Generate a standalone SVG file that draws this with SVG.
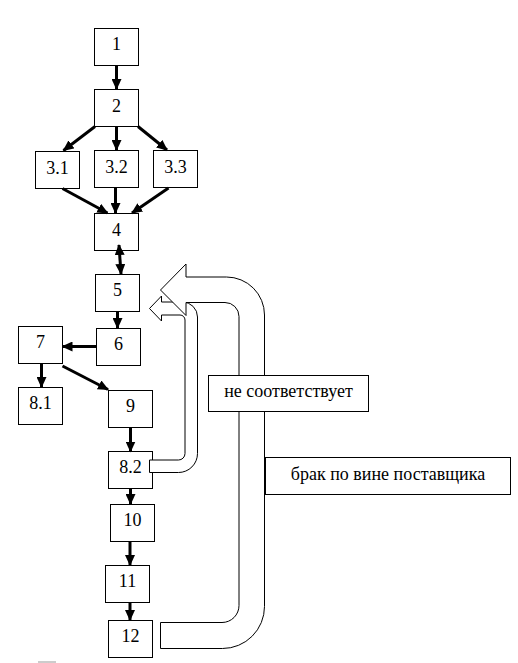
<svg xmlns="http://www.w3.org/2000/svg" width="518" height="663" viewBox="0 0 518 663">
<style>
.box{fill:#fff;stroke:#000;stroke-width:1}
.lbl{font-family:"Liberation Serif","Times New Roman",serif;font-size:18px;fill:#000;text-anchor:middle}
.con{stroke:#000;stroke-width:3;fill:none;marker-end:url(#ah)}
.blk{fill:#fff;stroke:#000;stroke-width:1;stroke-linejoin:miter}
</style>
<defs>
<marker id="ah" markerUnits="userSpaceOnUse" markerWidth="11" markerHeight="10" refX="10" refY="5" orient="auto-start-reverse">
<path d="M0,0 L11,5 L0,10 z" fill="#000"/>
</marker>
</defs>
<rect width="518" height="663" fill="#fff"/>
<g id="n1"><rect class="box" x="94.5" y="28.5" width="44" height="37"/><text class="lbl" x="116.5" y="50">1</text></g>
<g id="n2"><rect class="box" x="94.5" y="89.5" width="44" height="37"/><text class="lbl" x="116.5" y="112">2</text></g>
<g id="n3_1"><rect class="box" x="35.5" y="151.5" width="44" height="37"/><text class="lbl" x="57.5" y="173.5">3.1</text></g>
<g id="n3_2"><rect class="box" x="94.5" y="150.5" width="44" height="37"/><text class="lbl" x="116.5" y="172.5">3.2</text></g>
<g id="n3_3"><rect class="box" x="153.5" y="150.5" width="44" height="37"/><text class="lbl" x="175.5" y="172.5">3.3</text></g>
<g id="n4"><rect class="box" x="94.5" y="213.5" width="44" height="37"/><text class="lbl" x="116.5" y="235.5">4</text></g>
<g id="n5"><rect class="box" x="95.5" y="274.5" width="44" height="37"/><text class="lbl" x="117.5" y="296">5</text></g>
<g id="n6"><rect class="box" x="96.5" y="328.5" width="44" height="37"/><text class="lbl" x="118.5" y="350">6</text></g>
<g id="n7"><rect class="box" x="18.5" y="326.5" width="44" height="37"/><text class="lbl" x="40.5" y="348">7</text></g>
<g id="n8_1"><rect class="box" x="18.5" y="387.5" width="44" height="37"/><text class="lbl" x="40.5" y="409">8.1</text></g>
<g id="n9"><rect class="box" x="108.5" y="390.5" width="44" height="37"/><text class="lbl" x="130.5" y="412">9</text></g>
<g id="n8_2"><rect class="box" x="108.5" y="451.5" width="44" height="37"/><text class="lbl" x="130.5" y="473">8.2</text></g>
<g id="n10"><rect class="box" x="110.5" y="504.5" width="44" height="37"/><text class="lbl" x="132.5" y="526">10</text></g>
<g id="n11"><rect class="box" x="105.5" y="565.5" width="44" height="37"/><text class="lbl" x="127.5" y="587">11</text></g>
<g id="n12"><rect class="box" x="108.5" y="620.5" width="44" height="37"/><text class="lbl" x="130.5" y="642">12</text></g>
<g id="connectors">
<line class="con" x1="116.5" y1="66" x2="116.5" y2="89"/>
<line class="con" x1="95" y1="126.5" x2="63.5" y2="150.5"/>
<line class="con" x1="116.5" y1="127" x2="116.5" y2="150"/>
<line class="con" x1="138" y1="126.5" x2="167" y2="150"/>
<line class="con" x1="62.5" y1="188.5" x2="107.5" y2="213"/>
<line class="con" x1="115.5" y1="188" x2="115.5" y2="213"/>
<line class="con" x1="168.5" y1="188" x2="132" y2="213"/>
<line class="con" x1="119" y1="245" x2="121" y2="274" style="marker-start:url(#ah)"/>
<line class="con" x1="117.5" y1="312" x2="117.5" y2="328"/>
<line class="con" x1="96" y1="346.5" x2="62.5" y2="346.5"/>
<line class="con" x1="41.5" y1="364" x2="41.5" y2="387"/>
<line class="con" x1="62.5" y1="366" x2="108" y2="389.5"/>
<line class="con" x1="130.5" y1="428" x2="130.5" y2="451.5"/>
<line class="con" x1="130.5" y1="489" x2="130.5" y2="504"/>
<line class="con" x1="130" y1="542" x2="130" y2="565"/>
<line class="con" x1="130" y1="603" x2="130" y2="620"/>
<path id="loop_small" class="blk" d="M149.5,472.5 L178.5,472.5 A19 19 0 0 0 197.5,453.5 L197.5,317 A15 15 0 0 0 182.5,302 L161.5,302 L161.5,296 L149.5,308.5 L161.5,321 L161.5,315 L180,315 A5 5 0 0 1 185,320 L185,453.5 A6.5 6.5 0 0 1 178.5,460 L149.5,460 Z"/>
<path id="loop_big" class="blk" d="M160.5,648.5 L222.5,648.5 A42 42 0 0 0 264.5,606.5 L264.5,315 A38 38 0 0 0 226.5,277 L186,277 L186,264 L160.5,290 L186,315.5 L186,302.5 L225,302.5 A14 14 0 0 1 239,316.5 L239,605.5 A17 17 0 0 1 222,622.5 L160.5,622.5 Z"/>
</g>
<g id="lbl_mismatch"><rect class="box" x="208.5" y="375.5" width="160" height="36"/><text class="lbl" x="288.5" y="397">не соответствует</text></g>
<g id="lbl_defect"><rect class="box" x="265.5" y="457.5" width="245" height="37"/><text class="lbl" x="388" y="479.5">брак по вине поставщика</text></g>
<line x1="38" y1="662" x2="56" y2="662" stroke="#999" stroke-width="1"/>
</svg>
